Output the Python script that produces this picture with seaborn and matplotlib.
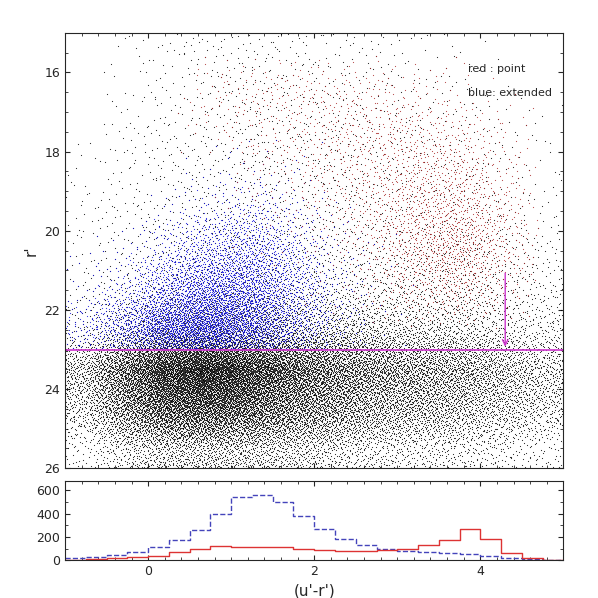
import numpy as np
import pandas as pd
import matplotlib
matplotlib.use("Agg")
import matplotlib.pyplot as plt
import seaborn as sns
from matplotlib.ticker import MultipleLocator

# density, points per cell: colour (u'-r') x r'
X_CENTERS = [-0.75, -0.25, 0.25, 0.75, 1.25, 1.75, 2.25, 2.75, 3.25, 3.75, 4.25, 4.75]
Y_CENTERS = [15.5, 16.5, 17.5, 18.5, 19.5, 20.5, 21.5, 22.5, 23.5, 24.5, 25.5]

BLACK = [
    [0, 1, 2, 3, 3, 3, 2, 2, 1, 1, 0, 0],
    [0, 1, 2, 3, 4, 3, 3, 2, 2, 2, 1, 0],
    [0, 2, 3, 4, 5, 4, 4, 3, 3, 2, 2, 1],
    [1, 2, 4, 5, 6, 5, 5, 4, 3, 3, 2, 1],
    [2, 3, 5, 7, 8, 7, 6, 5, 4, 4, 3, 2],
    [2, 5, 8, 11, 12, 11, 9, 7, 7, 7, 6, 4],
    [4, 9, 15, 18, 20, 17, 15, 13, 12, 11, 9, 6],
    [10, 28, 45, 52, 52, 44, 38, 30, 27, 24, 18, 12],
    [40, 120, 200, 220, 180, 130, 100, 80, 70, 60, 45, 30],
    [28, 85, 140, 150, 125, 95, 75, 58, 52, 44, 34, 24],
    [6, 20, 34, 38, 34, 28, 22, 18, 16, 14, 10, 6],
]
BLUE = [
    [0] * 12,
    [0] * 12,
    [0] * 12,
    [0, 0, 0, 1, 2, 1, 0, 0, 0, 0, 0, 0],
    [0, 0, 2, 6, 10, 5, 1, 0, 0, 0, 0, 0],
    [0, 2, 10, 25, 32, 15, 3, 1, 0, 0, 0, 0],
    [2, 10, 38, 62, 55, 25, 6, 1, 0, 0, 0, 0],
    [10, 40, 90, 100, 70, 30, 7, 1, 0, 0, 0, 0],
    [0] * 12,
    [0] * 12,
    [0] * 12,
]
RED = [
    [0] * 12,
    [0, 0, 0, 3, 5, 5, 5, 5, 3, 2, 0, 0],
    [0, 0, 0, 1, 3, 5, 6, 8, 8, 6, 2, 0],
    [0, 0, 0, 0, 2, 3, 5, 8, 12, 12, 5, 0],
    [0, 0, 0, 0, 1, 2, 3, 8, 15, 18, 8, 0],
    [0, 0, 0, 0, 0, 1, 2, 6, 15, 24, 10, 0],
    [0, 0, 0, 0, 0, 0, 1, 3, 8, 12, 5, 0],
    [0] * 12,
    [0] * 12,
    [0] * 12,
    [0] * 12,
]

# histograms in the lower panel
BIN_LEFT = [-1 + 0.25 * i for i in range(24)]
HIST_EXT = [20, 30, 45, 70, 110, 170, 260, 400, 540, 560, 500, 380,
            270, 180, 130, 95, 80, 70, 60, 50, 40, 20, 10, 5]
HIST_PT = [5, 10, 20, 30, 40, 70, 100, 120, 115, 110, 110, 100,
           90, 80, 80, 85, 100, 130, 170, 270, 180, 60, 20, 5]

SCALE = 9
CUT = 23.0


def halton(n, b, start=1):
    idx = np.arange(start, start + n)
    res = np.zeros(n)
    f = 1.0
    i = idx.copy()
    while np.any(i > 0):
        f /= b
        res += f * (i % b)
        i //= b
    return res


def density(grid, x, y):
    g = np.array(grid, dtype=float)
    fx = np.clip((x - X_CENTERS[0]) / 0.5, 0, len(X_CENTERS) - 1.001)
    fy = np.clip((y - Y_CENTERS[0]) / 1.0, 0, len(Y_CENTERS) - 1.001)
    ix, iy = fx.astype(int), fy.astype(int)
    tx, ty = fx - ix, fy - iy
    return ((1 - tx) * (1 - ty) * g[iy, ix] + tx * (1 - ty) * g[iy, ix + 1]
            + (1 - tx) * ty * g[iy + 1, ix] + tx * ty * g[iy + 1, ix + 1])


def sample(grid, start):
    g = np.array(grid, dtype=float)
    total = int(g.sum() * SCALE)
    peak = g.max()
    n_cand = int(total * peak * len(g) * len(g[0]) / g.sum())
    x = -1 + 6 * halton(n_cand, 2, start)
    y = 15 + 11 * halton(n_cand, 3, start)
    u = halton(n_cand, 5, start)
    keep = u < density(grid, x, y) / peak
    return pd.DataFrame({"x": x[keep], "y": y[keep]})


black = sample(BLACK, 1)
blue = sample(BLUE, 7)
blue = blue[blue["y"] < CUT]
red = sample(RED, 13)

sns.set_style("ticks")
fig = plt.figure(figsize=(5.98, 5.98), dpi=100)
ax = fig.add_axes([0.109, 0.217, 0.833, 0.728])
axh = fig.add_axes([0.109, 0.063, 0.833, 0.133])

for df, col in [(black, "black"), (blue, "#1010dd"), (red, "#aa2a2a")]:
    sns.scatterplot(data=df, x="x", y="y", s=0.7, color=col, linewidth=0,
                    alpha=0.85, ax=ax, legend=False)

ax.axhline(CUT, color="#cc33cc", lw=1.2)
ax.annotate("", xy=(4.3, CUT), xytext=(4.3, 21.0),
            arrowprops=dict(arrowstyle="->", color="#cc33cc", lw=1))
ax.text(3.85, 16.0, "red : point", fontsize=8)
ax.text(3.85, 16.6, "blue: extended", fontsize=8)
ax.set_xlim(-1, 5)
ax.set_ylim(26, 15)
ax.set_yticks([16, 18, 20, 22, 24, 26])
ax.set_xticks([0, 2, 4])
ax.set_xticklabels([])
ax.set_xlabel("")
ax.set_ylabel("r'", fontsize=11)

hd = pd.DataFrame({"x": BIN_LEFT + [5.0],
                   "ext": HIST_EXT + [HIST_EXT[-1]],
                   "pt": HIST_PT + [HIST_PT[-1]]})
sns.lineplot(data=hd, x="x", y="ext", drawstyle="steps-post", color="#4444bb",
             linestyle="--", lw=1, ax=axh)
sns.lineplot(data=hd, x="x", y="pt", drawstyle="steps-post", color="#dd3333",
             lw=1, ax=axh)
axh.set_xlim(-1, 5)
axh.set_ylim(0, 680)
axh.set_yticks([0, 200, 400, 600])
axh.set_xticks([0, 2, 4])
axh.set_xlabel("(u'-r')", fontsize=11)
axh.set_ylabel("")

for a in (ax, axh):
    a.xaxis.set_minor_locator(MultipleLocator(0.2))
    a.tick_params(direction="in", top=True, right=True, which="both", labelsize=9)
ax.yaxis.set_minor_locator(MultipleLocator(0.5))
axh.yaxis.set_minor_locator(MultipleLocator(100))

fig.savefig("out.png", dpi=100)
